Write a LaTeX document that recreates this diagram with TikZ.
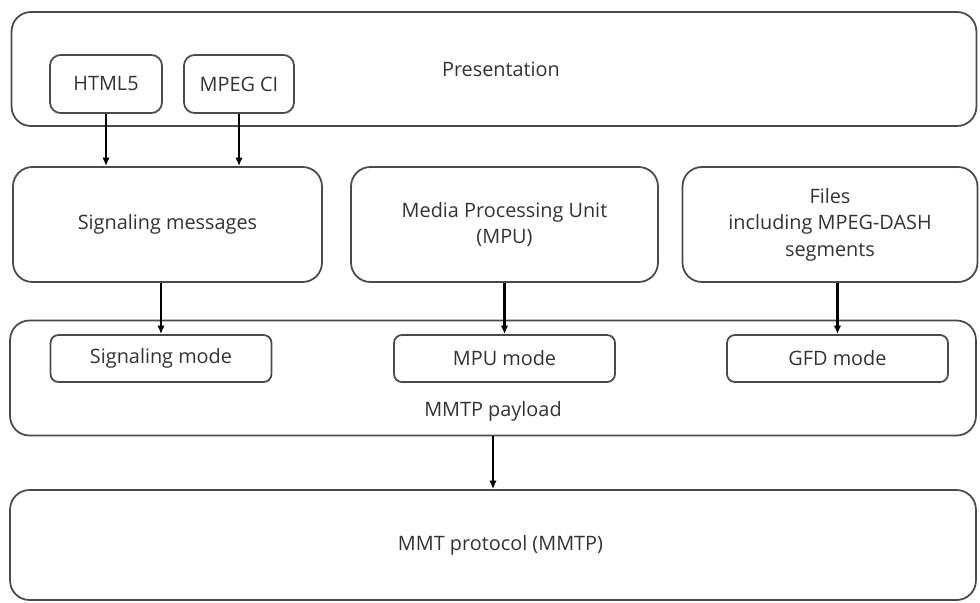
\documentclass[tikz,border=0pt]{standalone}
\usepackage{fontspec}
\setmainfont{Open Sans}
\usepackage{xcolor}
\usepackage{tikz}
\usetikzlibrary{arrows.meta,positioning}

\definecolor{edgegray}{HTML}{4A4A4A}
\definecolor{textgray}{HTML}{333333}

\begin{document}
\begin{tikzpicture}[
    x=0.02cm, y=-0.02cm,
    font=\fontsize{11.3}{15}\selectfont, text=textgray,
    layer/.style={draw=edgegray, line width=1pt, rounded corners=11pt, minimum width=19.32cm, minimum height=2.3cm},
    block/.style={draw=edgegray, line width=1pt, rounded corners=11pt, align=center, minimum height=2.3cm},
    small/.style={draw=edgegray, line width=1pt, rounded corners=6pt, minimum height=1.16cm},
    mode/.style={draw=edgegray, line width=1pt, rounded corners=4.5pt, minimum width=4.42cm, minimum height=0.94cm},
    arrow/.style={-{Latex[length=1.7mm,width=1.5mm]}, line width=1.3pt}
  ]
    \useasboundingbox (0,0) rectangle (980,602);

    \node[layer, minimum width=19.3cm, minimum height=2.28cm] (pres) at (494,69) {\hspace*{0.28cm}Presentation};
    \node[small, minimum width=2.24cm] (html) at (106,84) {HTML5};
    \node[small, minimum width=2.2cm] (mpegci) at (239,84) {MPEG CI};

    \node[block, minimum width=6.18cm] (sigmsg) at (167.5,224.5) {Signaling messages};
    \node[block, minimum width=6.14cm] (mpu) at (504.5,224.5) {Media Processing Unit\\(MPU)};
    \node[block, minimum width=5.9cm] (files) at (830,224.5) {Files\\including MPEG-DASH\\segments};

    \node[layer] (payload) at (493,378) {};
    \node[above=0.18cm of payload.south] (payloadtxt) {MMTP payload};
    \node[mode] (sigmode) at (161,358.5) {Signaling mode};
    \node[mode] (mpumode) at (504.5,358.5) {MPU mode};
    \node[mode] (gfdmode) at (837.5,358.5) {GFD mode};

    \node[layer, minimum height=2.2cm] (mmtp) at (493,545) {\hspace*{0.3cm}MMT protocol (MMTP)};

    \draw[arrow] (html) -- (html |- sigmsg.north);
    \draw[arrow] (mpegci) -- (mpegci |- sigmsg.north);
    \draw[arrow] (sigmode |- sigmsg.south) -- (sigmode);
    \draw[arrow] (mpu) -- (mpumode);
    \draw[arrow] (gfdmode |- files.south) -- (gfdmode);
    \draw[arrow] (payload.south) -- (mmtp.north);
  \end{tikzpicture}
\end{document}
